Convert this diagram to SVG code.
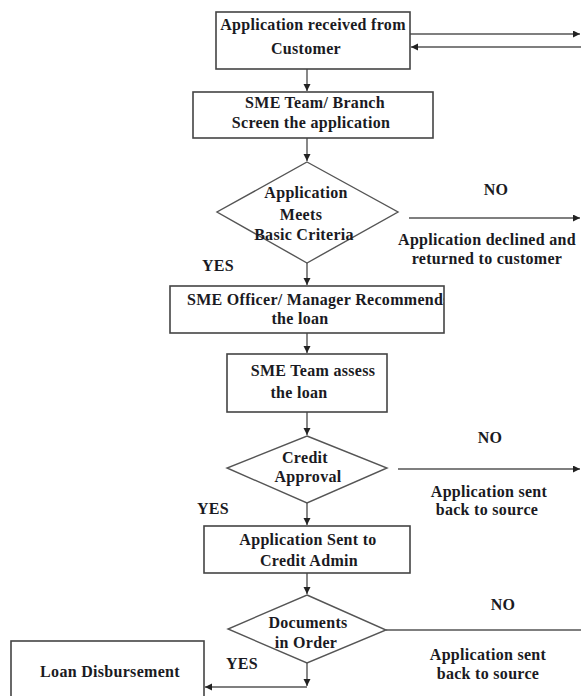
<svg xmlns="http://www.w3.org/2000/svg" width="581" height="696" viewBox="0 0 581 696">
<style>
.box{fill:#fff;stroke:#444;stroke-width:1.6}
.dia{fill:#fff;stroke:#555;stroke-width:1.4}
.t{font-family:"Liberation Serif","Times New Roman",serif;font-weight:bold;font-size:16px;letter-spacing:0.3px;fill:#1a1a22;text-anchor:middle}
.ln{fill:none;stroke:#555;stroke-width:1.4}
</style>
<defs>
<marker id="ah" markerUnits="userSpaceOnUse" markerWidth="8" markerHeight="8" refX="7" refY="3.5" orient="auto">
<path d="M0,0 L7,3.5 L0,7 z" fill="#222"/>
</marker>
<clipPath id="c3"><rect x="170" y="286" width="274" height="47"/></clipPath>
</defs>
<rect width="581" height="696" fill="#fff"/>
<g id="connectors">
<line class="ln" x1="410" y1="34" x2="580" y2="34" marker-end="url(#ah)"/>
<line class="ln" x1="581" y1="47" x2="411" y2="47" marker-end="url(#ah)"/>
<line class="ln" x1="307" y1="69" x2="307" y2="91" marker-end="url(#ah)"/>
<line class="ln" x1="307" y1="138" x2="307" y2="161" marker-end="url(#ah)"/>
<line class="ln" x1="409" y1="218" x2="580" y2="218" marker-end="url(#ah)"/>
<line class="ln" x1="307" y1="263" x2="307" y2="285" marker-end="url(#ah)"/>
<line class="ln" x1="307" y1="333" x2="307" y2="353" marker-end="url(#ah)"/>
<line class="ln" x1="307" y1="412" x2="307" y2="435" marker-end="url(#ah)"/>
<line class="ln" x1="398" y1="469" x2="580" y2="469" marker-end="url(#ah)"/>
<line class="ln" x1="307" y1="503" x2="307" y2="525" marker-end="url(#ah)"/>
<line class="ln" x1="307" y1="573" x2="307" y2="594" marker-end="url(#ah)"/>
<line class="ln" x1="386" y1="630" x2="581" y2="630"/>
<line class="ln" x1="307" y1="663" x2="307" y2="686" marker-end="url(#ah)"/>
<line class="ln" x1="307" y1="687" x2="205" y2="687" marker-end="url(#ah)"/>
</g>
<g id="n1">
<rect class="box" x="216" y="12" width="194" height="57"/>
<text class="t" x="313" y="30">Application received from</text>
<text class="t" x="306" y="54">Customer</text>
</g>
<g id="n2">
<rect class="box" x="193" y="92" width="240" height="46"/>
<text class="t" x="315" y="108">SME Team/ Branch</text>
<text class="t" x="311" y="128">Screen the application</text>
</g>
<g id="d1">
<polygon class="dia" points="307,162 398,212 307,263 217,212"/>
<text class="t" x="306" y="198">Application</text>
<text class="t" x="301" y="220">Meets</text>
<text class="t" x="304" y="240">Basic Criteria</text>
</g>
<g id="l1">
<text class="t" x="496" y="195">NO</text>
<text class="t" x="487" y="245">Application declined and</text>
<text class="t" x="487" y="264">returned to customer</text>
<text class="t" x="218" y="271">YES</text>
</g>
<g id="n3">
<rect class="box" x="170" y="286" width="274" height="47"/>
<text class="t" x="187" y="305" style="text-anchor:start" clip-path="url(#c3)">SME Officer/ Manager Recommends</text>
<text class="t" x="300" y="324">the loan</text>
</g>
<g id="n4">
<rect class="box" x="227" y="354" width="160" height="58"/>
<text class="t" x="313" y="376">SME Team assess</text>
<text class="t" x="299" y="398">the loan</text>
</g>
<g id="d2">
<polygon class="dia" points="307,436 387,468 307,503 227,468"/>
<text class="t" x="305" y="463">Credit</text>
<text class="t" x="308" y="482">Approval</text>
</g>
<g id="l2">
<text class="t" x="490" y="443">NO</text>
<text class="t" x="489" y="497">Application sent</text>
<text class="t" x="487" y="515">back to source</text>
<text class="t" x="213" y="514">YES</text>
</g>
<g id="n5">
<rect class="box" x="204" y="526" width="206" height="47"/>
<text class="t" x="308" y="545">Application Sent to</text>
<text class="t" x="309" y="566">Credit Admin</text>
</g>
<g id="d3">
<polygon class="dia" points="307,595 386,630 307,663 228,629"/>
<text class="t" x="308" y="628">Documents</text>
<text class="t" x="306" y="648">in Order</text>
</g>
<g id="l3">
<text class="t" x="503" y="610">NO</text>
<text class="t" x="488" y="660">Application sent</text>
<text class="t" x="488" y="679">back to source</text>
<text class="t" x="242" y="669">YES</text>
</g>
<g id="n6">
<rect class="box" x="11" y="641" width="193" height="70"/>
<text class="t" x="110" y="677">Loan Disbursement</text>
</g>
</svg>
